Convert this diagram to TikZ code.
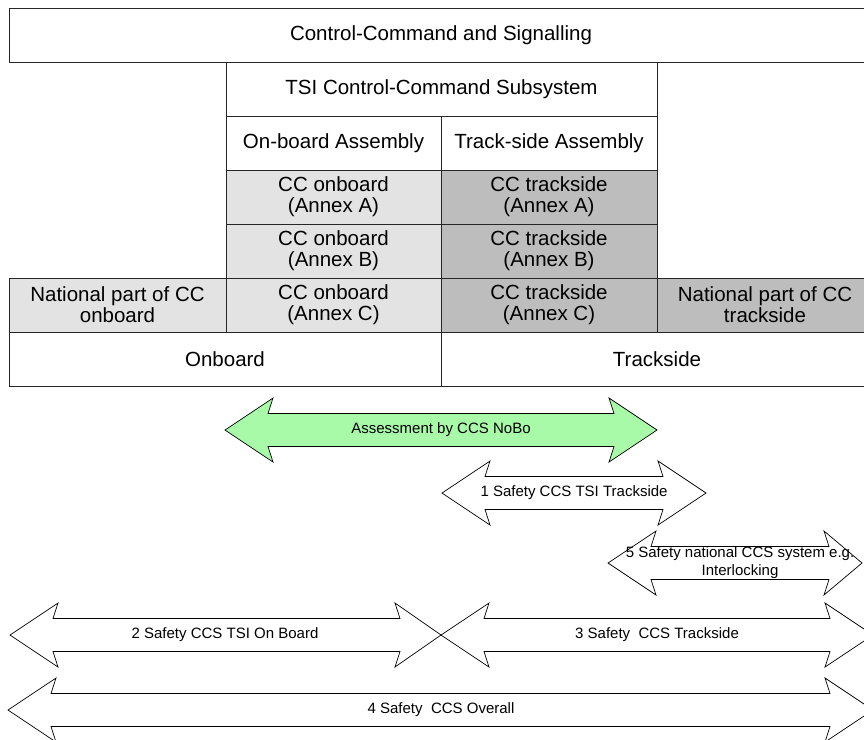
\documentclass[tikz,border=0pt]{standalone}
\usepackage{fontspec}
\setmainfont{Liberation Sans}
\definecolor{nobogreen}{RGB}{168,250,168}
\newcommand\dblarr[5]{%
  \draw[#1] (#2,#4) -- ({#2+48},{#4-32}) -- ({#2+43},{#4-16.5})
    -- ({#3-#5+5},{#4-16.5}) -- ({#3-#5},{#4-32}) -- (#3,#4)
    -- ({#3-#5},{#4+32}) -- ({#3-#5+5},{#4+16.5})
    -- ({#2+43},{#4+16.5}) -- ({#2+48},{#4+32}) -- cycle;}
\begin{document}
\begin{tikzpicture}[x=1pt,y=-1pt,
  cell/.style={draw=black!85, line width=0.8pt, inner sep=0pt, outer sep=0pt,
    align=center, font=\fontsize{20.5}{21}\selectfont},
  onb/.style={cell, fill=black!11},
  trk/.style={cell, fill=black!26},
  arr/.style={draw=black, line width=0.7pt, fill=white, line join=miter},
  nobo/.style={arr, fill=nobogreen},
  lbl/.style={inner sep=0pt, align=center, font=\fontsize{15}{18}\selectfont}]
\clip (0,0) rectangle (864,739);
% table
\node[cell, minimum width=864, minimum height=54] (ccs) at (441,35) {Control-Command and Signalling};
\node[cell, minimum width=431, minimum height=54] (tsi) at (441.5,89) {TSI Control-Command Subsystem};
\node[cell, minimum width=215, minimum height=54] (onasm) at (333.5,143) {On-board Assembly};
\node[cell, minimum width=216, minimum height=54] (trasm) at (549,143) {Track-side Assembly};
\node[onb, minimum width=215, minimum height=54] (ona) at (333.5,197) {CC onboard\\(Annex A)};
\node[onb, minimum width=215, minimum height=54] (onbb) at (333.5,251) {CC onboard\\(Annex B)};
\node[onb, minimum width=215, minimum height=54] (onc) at (333.5,305) {CC onboard\\(Annex C)};
\node[trk, minimum width=216, minimum height=54] (tra) at (549,197) {CC trackside\\(Annex A)};
\node[trk, minimum width=216, minimum height=54] (trb) at (549,251) {CC trackside\\(Annex B)};
\node[trk, minimum width=216, minimum height=54] (trc) at (549,305) {CC trackside\\(Annex C)};
\node[onb, minimum width=217, minimum height=54] (natl) at (117.5,305) {National part of CC\\onboard};
\node[trk, minimum width=216, minimum height=54] (natr) at (765,305) {National part of CC\\trackside};
\node[cell, minimum width=432, minimum height=54] (onboard) at (225,359) {Onboard};
\node[cell, minimum width=432, minimum height=54] (trackside) at (657,359) {Trackside};
% arrows
\dblarr{nobo}{225}{657}{430}{48}
\node[lbl] (lnobo) at (441,430) {Assessment by CCS NoBo};
\dblarr{arr}{442}{706}{493}{48}
\node[lbl] (l1) at (574,493) {1 Safety CCS TSI Trackside};
\dblarr{arr}{608}{862}{563}{38}
\node[lbl] (l5) at (740,563) {5 Safety national CCS system e.g.\\Interlocking};
\dblarr{arr}{10}{441}{635}{46}
\node[lbl] (l2) at (225,635) {2 Safety CCS TSI On Board};
\dblarr{arr}{441}{873}{635}{48}
\node[lbl] (l3) at (657,635) {3 Safety\ \ CCS Trackside};
\dblarr{arr}{8}{873}{710}{48}
\node[lbl] (l4) at (441,710) {4 Safety\ \ CCS Overall};
\end{tikzpicture}
\end{document}
